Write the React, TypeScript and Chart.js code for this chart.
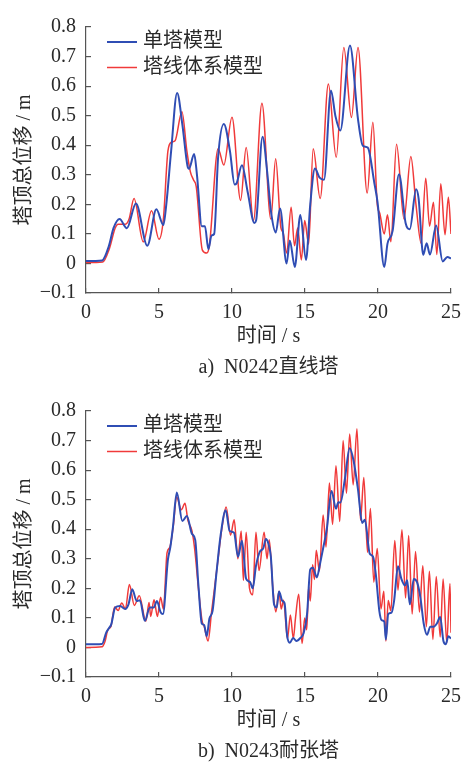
import { useEffect, useRef } from "react";
import { Chart, registerables } from "chart.js";

Chart.register(...registerables);

const FONT_FAMILY = '"Liberation Serif", "Noto Sans CJK SC", serif';
const TEXT_COLOR = "#2a2a2a";
const AXIS_COLOR = "#555555";
const BLUE = "#2f4db4";
const RED = "#f03a3a";

const seriesNames = ["单塔模型", "塔线体系模型"];
const xTitle = "时间 / s";
const yTitle = "塔顶总位移 / m";
const captionA = "a)  N0242直线塔";
const captionB = "b)  N0243耐张塔";
const xTicks = [0, 5, 10, 15, 20, 25];
const yTicks = [-0.1, 0, 0.1, 0.2, 0.3, 0.4, 0.5, 0.6, 0.7, 0.8];

// a) N0242 tangent tower — single tower model
const timeA1 = [0, 1.1, 1.55, 1.89, 2.3, 2.8, 3.42, 4.2, 4.82, 5.3, 5.5, 5.83, 6.24, 6.6, 6.95, 7.05, 7.41, 7.6, 7.93, 8.15, 8.38, 8.6, 8.78, 9.05, 9.44, 9.86, 10.18, 10.3, 10.68, 11.08, 11.53, 11.65, 12.09, 12.43, 12.66, 13.0, 13.29, 13.74, 13.96, 14.3, 14.68, 15.07, 15.36, 15.68, 16.0, 16.3, 16.78, 17.08, 17.42, 18.08, 18.63, 18.96, 19.3, 19.75, 19.97, 20.43, 20.65, 21.0, 21.44, 21.89, 22.18, 22.61, 22.78, 23.1, 23.33, 23.56, 23.98, 24.43, 24.75, 25];
const dispA1 = [0.008, 0.01, 0.056, 0.12, 0.15, 0.119, 0.203, 0.06, 0.183, 0.13, 0.2, 0.38, 0.577, 0.47, 0.33, 0.32, 0.37, 0.3, 0.126, 0.126, 0.048, 0.095, 0.1, 0.36, 0.472, 0.38, 0.267, 0.27, 0.332, 0.24, 0.137, 0.145, 0.429, 0.3, 0.18, 0.105, 0.186, 0.0, 0.078, -0.012, 0.164, 0.012, 0.2, 0.321, 0.29, 0.283, 0.585, 0.5, 0.45, 0.737, 0.488, 0.398, 0.392, 0.272, 0.207, -0.012, 0.067, 0.11, 0.302, 0.137, 0.116, 0.251, 0.22, 0.029, 0.068, 0.03, 0.128, 0.007, 0.022, 0.017];

// a) N0242 tangent tower — tower-line system model
const timeA2 = [0, 1.15, 1.6, 2.0, 2.2, 2.7, 2.95, 3.29, 3.92, 4.49, 5.0, 5.3, 5.61, 5.85, 6.1, 6.57, 6.91, 7.15, 7.36, 7.55, 7.97, 8.27, 8.45, 9.05, 9.44, 10.0, 10.59, 10.97, 11.47, 12.05, 12.66, 12.99, 13.35, 13.5, 13.74, 14.05, 14.28, 14.5, 14.75, 14.98, 15.25, 15.56, 16.04, 16.6, 17.14, 17.66, 18.18, 18.63, 19.26, 19.65, 19.95, 20.12, 20.43, 20.65, 20.88, 21.27, 21.78, 22.25, 22.6, 22.96, 23.27, 23.53, 23.8, 24.03, 24.3, 24.59, 24.82, 25];
const dispA2 = [0.003, 0.005, 0.05, 0.12, 0.133, 0.133, 0.15, 0.22, 0.073, 0.178, 0.082, 0.15, 0.38, 0.41, 0.415, 0.513, 0.38, 0.31, 0.283, 0.26, 0.045, 0.035, 0.06, 0.388, 0.333, 0.495, 0.213, 0.392, 0.145, 0.542, 0.15, 0.354, 0.12, 0.105, 0.035, 0.19, 0.06, 0.12, 0.012, 0.145, 0.065, 0.388, 0.22, 0.607, 0.359, 0.731, 0.494, 0.731, 0.238, 0.478, 0.2, 0.17, 0.1, 0.165, 0.073, 0.403, 0.15, 0.362, 0.2, 0.067, 0.288, 0.126, 0.207, 0.03, 0.27, 0.097, 0.224, 0.1];

// b) N0243 strain tower — single tower model
const timeB1 = [0, 1.1, 1.39, 1.57, 1.73, 2.0, 2.34, 2.68, 2.91, 3.17, 3.47, 3.69, 4.03, 4.37, 4.64, 4.86, 5.11, 5.27, 5.61, 5.78, 5.95, 6.22, 6.6, 6.91, 7.25, 7.48, 7.7, 7.93, 8.09, 8.27, 8.45, 8.67, 8.94, 9.23, 9.57, 9.84, 10.14, 10.41, 10.68, 10.97, 11.24, 11.42, 11.64, 11.91, 12.14, 12.32, 12.5, 12.66, 12.88, 13.06, 13.22, 13.45, 13.6, 13.78, 13.96, 14.19, 14.41, 14.68, 14.91, 15.14, 15.36, 15.54, 15.81, 16.04, 16.26, 16.49, 16.82, 17.12, 17.28, 17.43, 17.72, 18.06, 18.33, 18.63, 18.92, 19.1, 19.43, 19.66, 19.86, 20.09, 20.25, 20.43, 20.54, 20.7, 20.93, 21.1, 21.37, 21.6, 21.85, 22.0, 22.18, 22.45, 22.68, 22.91, 23.13, 23.36, 23.58, 23.81, 24.03, 24.26, 24.48, 24.64, 24.82, 25];
const dispB1 = [0.011, 0.012, 0.051, 0.065, 0.078, 0.135, 0.14, 0.13, 0.146, 0.197, 0.157, 0.16, 0.09, 0.135, 0.135, 0.157, 0.119, 0.113, 0.297, 0.34, 0.405, 0.524, 0.428, 0.445, 0.385, 0.364, 0.21, 0.081, 0.076, 0.038, 0.097, 0.124, 0.254, 0.383, 0.464, 0.394, 0.388, 0.307, 0.361, 0.232, 0.221, 0.2, 0.275, 0.324, 0.335, 0.367, 0.35, 0.307, 0.146, 0.135, 0.189, 0.157, 0.15, 0.038, 0.016, 0.032, 0.022, 0.032, 0.049, 0.113, 0.264, 0.27, 0.237, 0.286, 0.34, 0.399, 0.529, 0.469, 0.491, 0.49, 0.566, 0.674, 0.631, 0.534, 0.421, 0.432, 0.318, 0.307, 0.243, 0.124, 0.092, 0.087, 0.027, 0.113, 0.118, 0.157, 0.275, 0.232, 0.21, 0.227, 0.146, 0.232, 0.22, 0.167, 0.081, 0.043, 0.07, 0.07, 0.081, 0.103, 0.022, 0.011, 0.038, 0.03];

// b) N0243 strain tower — tower-line system model
const timeB2 = [0, 1.1, 1.3, 1.5, 1.7, 1.96, 2.2, 2.45, 2.7, 2.97, 3.31, 3.65, 4.1, 4.32, 4.43, 4.66, 4.89, 5.11, 5.3, 5.55, 5.75, 6.0, 6.2, 6.53, 6.78, 6.98, 7.25, 7.45, 7.7, 7.95, 8.1, 8.36, 8.6, 8.75, 9.0, 9.3, 9.6, 9.9, 10.15, 10.4, 10.63, 10.78, 10.97, 11.2, 11.42, 11.64, 11.85, 12.2, 12.4, 12.55, 12.8, 13.0, 13.22, 13.37, 13.53, 13.8, 14.0, 14.2, 14.35, 14.57, 14.8, 14.98, 15.12, 15.25, 15.36, 15.52, 15.65, 15.77, 15.99, 16.24, 16.44, 16.67, 16.89, 17.12, 17.38, 17.61, 17.84, 18.06, 18.3, 18.56, 18.8, 19.03, 19.28, 19.48, 19.71, 19.95, 20.2, 20.4, 20.54, 20.7, 20.88, 21.15, 21.37, 21.64, 21.89, 22.1, 22.34, 22.57, 22.84, 23.07, 23.31, 23.52, 23.76, 23.99, 24.26, 24.46, 24.71, 24.93, 25];
const dispB2 = [0.0, 0.002, 0.02, 0.06, 0.07, 0.137, 0.125, 0.15, 0.13, 0.213, 0.142, 0.175, 0.089, 0.152, 0.105, 0.161, 0.105, 0.17, 0.13, 0.32, 0.34, 0.42, 0.51, 0.466, 0.488, 0.43, 0.396, 0.33, 0.2, 0.09, 0.07, 0.022, 0.12, 0.18, 0.28, 0.4, 0.475, 0.38, 0.432, 0.3, 0.394, 0.227, 0.39, 0.2, 0.178, 0.39, 0.26, 0.39, 0.3, 0.364, 0.2, 0.12, 0.19, 0.13, 0.16, 0.03, 0.11, 0.03, 0.1, 0.18, 0.013, 0.1, 0.06, 0.205, 0.157, 0.28, 0.23, 0.329, 0.259, 0.448, 0.34, 0.556, 0.416, 0.615, 0.426, 0.7, 0.522, 0.722, 0.55, 0.74, 0.43, 0.575, 0.322, 0.47, 0.221, 0.335, 0.13, 0.19, 0.022, 0.159, 0.124, 0.362, 0.194, 0.398, 0.167, 0.379, 0.113, 0.325, 0.12, 0.276, 0.07, 0.258, 0.027, 0.24, 0.035, 0.232, 0.016, 0.216, 0.05];

const toPoints = (t: number[], v: number[]) => t.map((x, i) => ({ x, y: v[i] }));

const formatY = (v: number) => {
  if (Math.abs(v) < 1e-9) return "0";
  return v < 0 ? "\u2212" + Math.abs(v).toFixed(1) : v.toFixed(1);
};

// Series key drawn inside the plot, near its top-left corner.
const lineKey = {
  id: "lineKey",
  afterDatasetsDraw(chart: any) {
    const { ctx, chartArea } = chart;
    ctx.save();
    ctx.font = `20px ${FONT_FAMILY}`;
    ctx.textBaseline = "middle";
    ctx.textAlign = "left";
    chart.data.datasets.forEach((ds: any, i: number) => {
      const y = chartArea.top + 15 + i * 25.5;
      const x0 = chartArea.left + 21;
      ctx.strokeStyle = ds.borderColor;
      ctx.lineWidth = ds.borderWidth;
      ctx.beginPath();
      ctx.moveTo(x0, y);
      ctx.lineTo(x0 + 30, y);
      ctx.stroke();
      ctx.fillStyle = TEXT_COLOR;
      ctx.fillText(ds.label, x0 + 36, y);
    });
    ctx.restore();
  },
};

type PanelProps = {
  caption: string;
  singleT: number[];
  singleV: number[];
  systemT: number[];
  systemV: number[];
  height: number;
  bottomPad: number;
};

function Panel({ caption, singleT, singleV, systemT, systemV, height, bottomPad }: PanelProps) {
  const ref = useRef<HTMLCanvasElement | null>(null);

  useEffect(() => {
    if (!ref.current) return;
    const font = { family: FONT_FAMILY, size: 20, weight: "normal" as const };
    const chart = new Chart(ref.current, {
      type: "line",
      data: {
        datasets: [
          {
            label: seriesNames[0],
            data: toPoints(singleT, singleV),
            borderColor: BLUE,
            borderWidth: 2,
            pointRadius: 0,
            cubicInterpolationMode: "monotone",
            fill: false,
          },
          {
            label: seriesNames[1],
            data: toPoints(systemT, systemV),
            borderColor: RED,
            borderWidth: 1.5,
            pointRadius: 0,
            cubicInterpolationMode: "monotone",
            fill: false,
          },
        ],
      },
      options: {
        animation: false,
        responsive: false,
        devicePixelRatio: 1,
        events: [],
        layout: { padding: { top: 15, right: 18, bottom: bottomPad, left: 0 } },
        plugins: {
          legend: { display: false },
          tooltip: { enabled: false },
          title: {
            display: true,
            text: caption,
            position: "bottom",
            fullSize: false,
            font,
            color: TEXT_COLOR,
            padding: { top: 7, bottom: 0 },
          },
        },
        scales: {
          x: {
            type: "linear",
            min: 0,
            max: 25,
            afterFit: (s: any) => {
              s.height = 56;
            },
            afterBuildTicks: (s: any) => {
              s.ticks = xTicks.map((value) => ({ value }));
            },
            border: { display: true, color: AXIS_COLOR, width: 1.2 },
            grid: { drawOnChartArea: false, drawTicks: true, tickLength: -5, color: AXIS_COLOR, lineWidth: 1.2 },
            ticks: {
              padding: 13,
              font,
              color: TEXT_COLOR,
              maxRotation: 0,
              autoSkip: false,
              callback: (v: any) => String(v),
            },
            title: { display: true, text: xTitle, font, color: TEXT_COLOR, padding: { top: 0, bottom: 0 } },
          },
          y: {
            type: "linear",
            min: -0.1,
            max: 0.8,
            afterFit: (s: any) => {
              s.width = 86;
            },
            afterBuildTicks: (s: any) => {
              s.ticks = yTicks.map((value) => ({ value }));
            },
            border: { display: true, color: AXIS_COLOR, width: 1.2 },
            grid: { drawOnChartArea: false, drawTicks: true, tickLength: -5, color: AXIS_COLOR, lineWidth: 1.2 },
            ticks: {
              padding: 15,
              font,
              color: TEXT_COLOR,
              autoSkip: false,
              callback: (v: any) => formatY(Number(v)),
            },
            title: { display: true, text: yTitle, font, color: TEXT_COLOR, padding: { top: 13, bottom: 0 } },
          },
        },
      },
      plugins: [lineKey],
    });
    return () => chart.destroy();
  }, [caption, singleT, singleV, systemT, systemV, height, bottomPad]);

  return <canvas ref={ref} width={474} height={height} style={{ display: "block", width: 474, height }} />;
}

export default function App() {
  return (
    <div style={{ position: "absolute", left: 0, top: 0, width: 474, height: 765, background: "#ffffff", overflow: "hidden" }}>
      <Panel caption={captionA} singleT={timeA1} singleV={dispA1} systemT={timeA2} systemV={dispA2} height={384} bottomPad={4} />
      <Panel caption={captionB} singleT={timeB1} singleV={dispB1} systemT={timeB2} systemV={dispB2} height={381} bottomPad={1} />
    </div>
  );
}
